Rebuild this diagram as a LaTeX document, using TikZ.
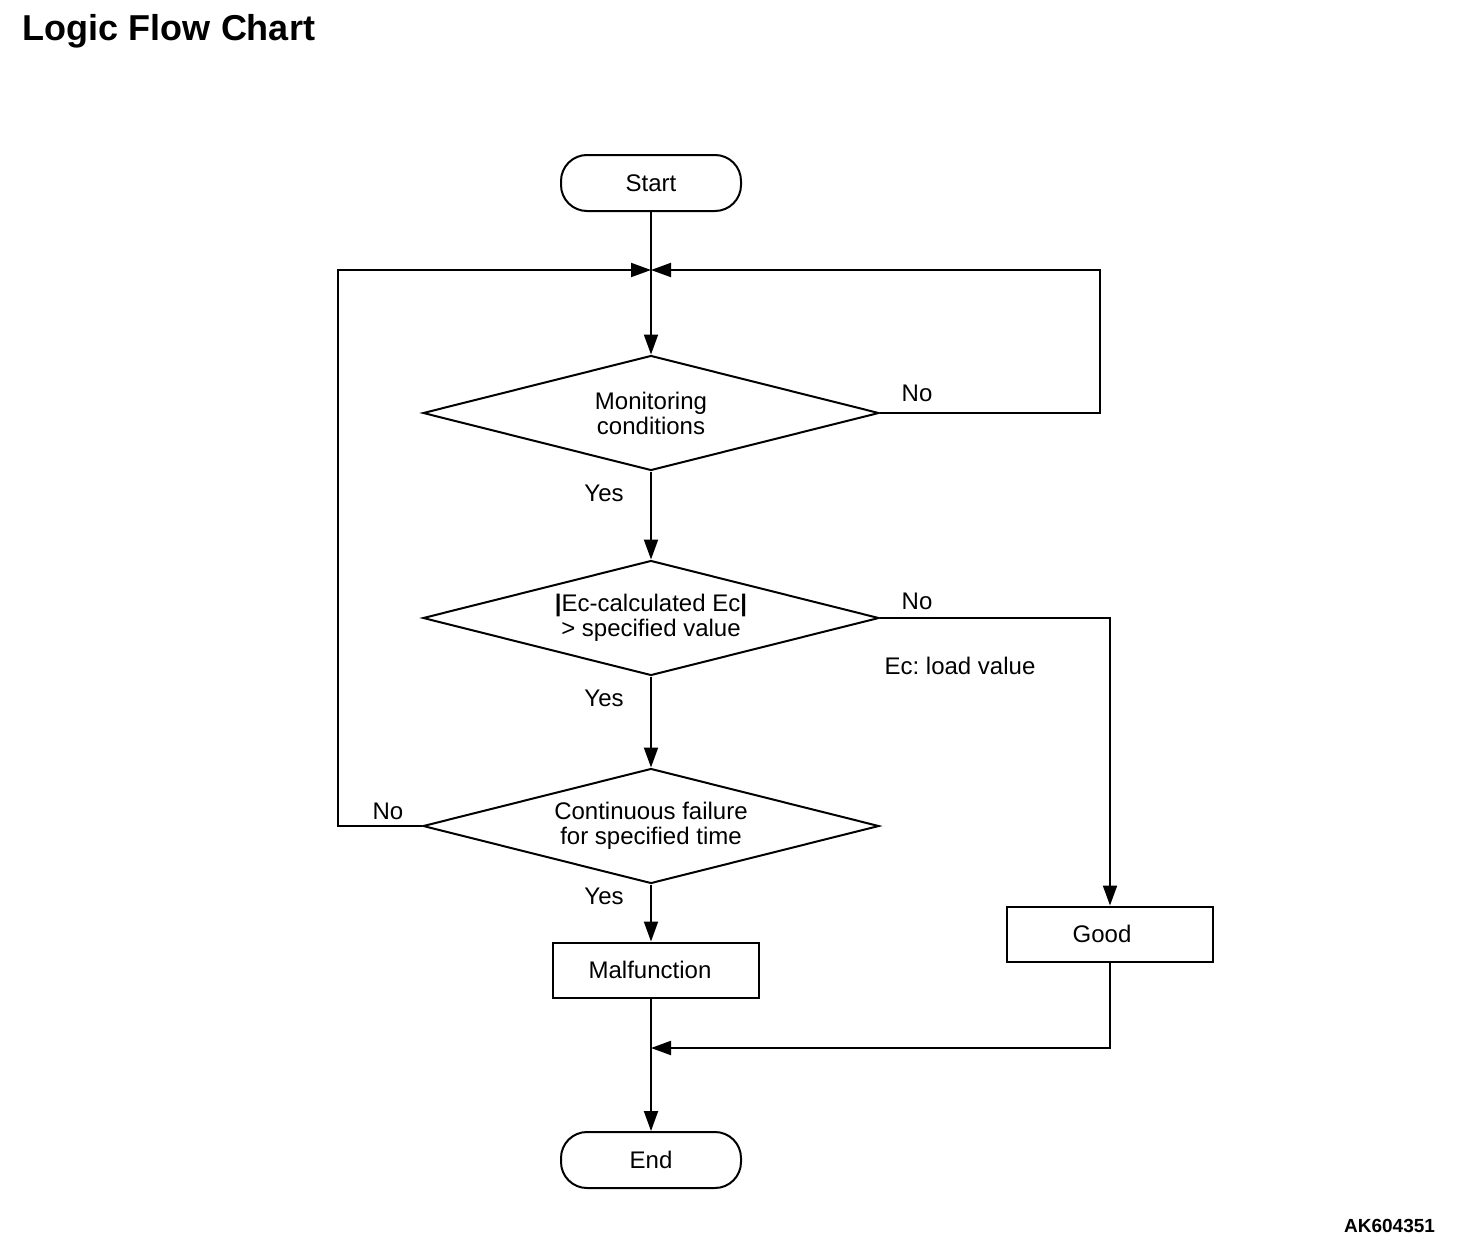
\documentclass[tikz,border=0pt]{standalone}
\usepackage{fontspec}
\setmainfont{Liberation Sans}
\usetikzlibrary{shapes.geometric,arrows.meta}
\frenchspacing
\begin{document}
\begin{tikzpicture}[x=0.5pt,y=-0.5pt,
  line width=1pt,
  txt/.style={font=\fontsize{12}{12.5}\selectfont},
  term/.style={draw, rounded corners=13pt, minimum width=90pt, minimum height=28pt, txt},
  box/.style={draw, minimum width=103pt, minimum height=27.5pt, txt},
  dia/.style={draw, diamond, shape aspect=4, minimum width=228pt, minimum height=57.5pt, inner sep=0pt, align=center, txt},
  lab/.style={txt, inner sep=0pt},
  arr/.style={-{Triangle[length=10pt,width=7pt]}}]
\useasboundingbox (0,0) rectangle (1472,1252);
\node[anchor=west, inner sep=0pt, font=\bfseries\fontsize{18}{18}\selectfont] (title) at (22,31) {Logic Flow Chart};
\node[anchor=east, inner sep=0pt, font=\bfseries\fontsize{9.5}{9.5}\selectfont] (code) at (1436,1226) {AK604351};

\node[term] (start) at (651,183) {\raisebox{-1.5pt}{Start}};
\coordinate (m) at (651,270);
\node[dia] (d1) at (651,413) {Monitoring\\conditions};
\node[dia] (d2) at (651,618) {{\bfseries|}Ec-calculated Ec{\bfseries|}\\> specified value};
\node[dia] (d3) at (651,826) {Continuous failure\\for specified time};
\node[box] (mal) at (656,970) {\hspace*{-6pt}Malfunction};
\node[box] (good) at (1110,934) {\hspace*{-8pt}Good};
\node[term] (end) at (651,1160) {End};
\coordinate (j) at (651,1048);
\coordinate (rt) at (1100,270);
\coordinate (lt) at (338,270);

\draw (start) -- (m);
\draw[arr] (m) -- (d1.north);
\draw[arr] (d1.south) -- (d2.north);
\draw[arr] (d2.south) -- (d3.north);
\draw[arr] (d3.south) -- (d3.south |- mal.north);
\draw[arr] (mal.south -| end.north) -- (end.north);
\draw[arr] (d1.east) -| (rt) -- (m);
\draw[arr] (d3.west) -| (lt) -- (m);
\draw[arr] (d2.east) -| (good.north);
\draw[arr] (good.south) |- (j);

\node[lab] (no1) at (917,393) {No};
\node[lab] (yes1) at (604,493) {Yes};
\node[lab] (no2) at (917,601) {No};
\node[lab] (ec) at (960,666) {Ec: load value};
\node[lab] (yes2) at (604,698) {Yes};
\node[lab] (no3) at (388,811) {No};
\node[lab] (yes3) at (604,896) {Yes};
\end{tikzpicture}
\end{document}
